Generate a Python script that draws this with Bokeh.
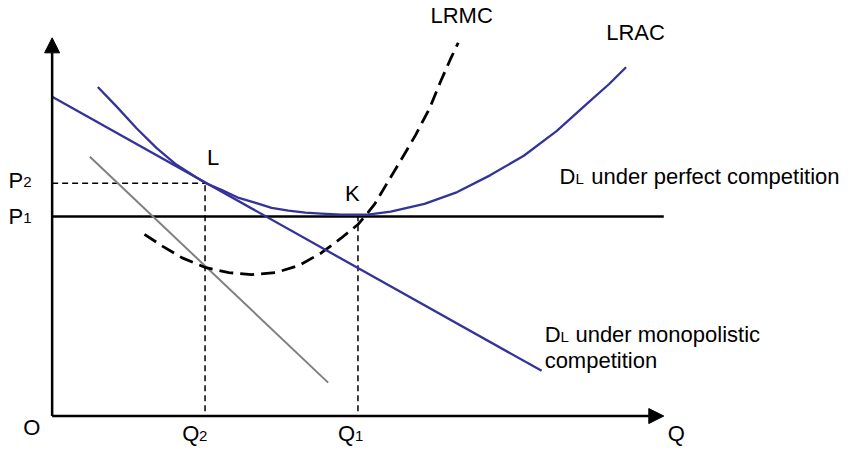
from bokeh.plotting import figure
from bokeh.models import Range1d, Arrow, NormalHead
from bokeh.core.properties import value
from bokeh.embed import file_html
from bokeh.resources import INLINE

# ---- data (quantity Q, price P in chart units) ----
P1 = 203
P2 = 237
Q1 = 308
Q2 = 154
Q_AXIS_END = 616
P_AXIS_END = 385

lrac_q = [46, 65, 85, 105, 125, 145, 155, 171, 188, 205, 221, 238, 255, 271, 291, 311, 318,
          341, 375, 408, 441, 475, 508, 541, 561, 578]
lrac_p = [335, 315, 293, 273, 256, 243, 237, 230, 222, 217, 212, 209, 207, 206, 205, 205, 205,
          208, 216, 228, 245, 265, 290, 320, 338, 355]

lrmc_q = [93, 111, 131, 155, 178, 201, 225, 248, 271, 291, 308, 318, 325, 335, 351, 366, 380, 391, 401, 409]
lrmc_p = [185, 173, 161, 151, 146, 144, 146, 153, 166, 181, 195, 207, 216, 233, 260, 286, 313, 340, 363, 380]

dmono_q = [0, 493]
dmono_p = [325, 46]

mr_q = [38, 278]
mr_p = [264, 34]

dperf_q = [0, 616]
dperf_p = [P1, P1]

# labels
main_txt = ["L", "K", "LRMC", "LRAC", "P", "P", "O", "Q", "Q", "Q",
            "D", "under perfect competition", "D", "under monopolistic", "competition"]
main_q = [156, 295, 381, 558, -44, -44, -29, 131, 288, 620, 511, 543, 496, 527, 496]
main_p = [263, 227, 408, 390, 240, 203, -12, -18, -18, -18, 244, 244, 83, 83, 57]

sub_txt = ["2", "1", "2", "1", "L", "L"]
sub_q = [-29, -29, 148, 305, 527, 512]
sub_p = [238, 202, -20, -20, 242, 81]

BLUE = "#333399"
FONT = "Liberation Sans"

p = figure(width=844, height=446, x_range=Range1d(-52, 798), y_range=Range1d(-31, 423),
           output_backend="svg", toolbar_location=None, min_border=0,
           x_axis_location=None, y_axis_location=None, outline_line_color=None,
           background_fill_color="white", border_fill_color="white")
p.xgrid.visible = False
p.ygrid.visible = False

# dashed guide lines
p.line([0, Q2], [P2, P2], line_color="black", line_width=1.5, line_dash="6 4")
p.line([Q2, Q2], [5, P2], line_color="black", line_width=1.5, line_dash="6 4")
p.line([Q1, Q1], [5, P1], line_color="black", line_width=1.5, line_dash="6 4")

# perfect competition demand
p.line(dperf_q, dperf_p, line_color="black", line_width=2.5)

# gray MR line
p.line(mr_q, mr_p, line_color="#808080", line_width=2)

# LRMC
p.line(lrmc_q, lrmc_p, line_color="black", line_width=2.8, line_dash="14 7", line_join="round")

# monopolistic demand and LRAC
p.line(dmono_q, dmono_p, line_color=BLUE, line_width=2.3)
p.line(lrac_q, lrac_p, line_color=BLUE, line_width=2.3, line_join="round")

# axes with arrows
p.add_layout(Arrow(end=NormalHead(size=15, fill_color="black", line_color="black"),
                   x_start=0, y_start=0, x_end=0, y_end=P_AXIS_END,
                   line_color="black", line_width=2.5))
p.add_layout(Arrow(end=NormalHead(size=15, fill_color="black", line_color="black"),
                   x_start=0, y_start=0, x_end=Q_AXIS_END, y_end=0,
                   line_color="black", line_width=2.5))

p.text(main_q, main_p, text=main_txt, text_font=value(FONT), text_font_size="22px",
       text_color="black", text_baseline="alphabetic", text_align="left")
p.text(sub_q, sub_p, text=sub_txt, text_font=value(FONT), text_font_size="15px",
       text_color="black", text_baseline="alphabetic", text_align="left")

open("out.html", "w").write(file_html(p, INLINE))
